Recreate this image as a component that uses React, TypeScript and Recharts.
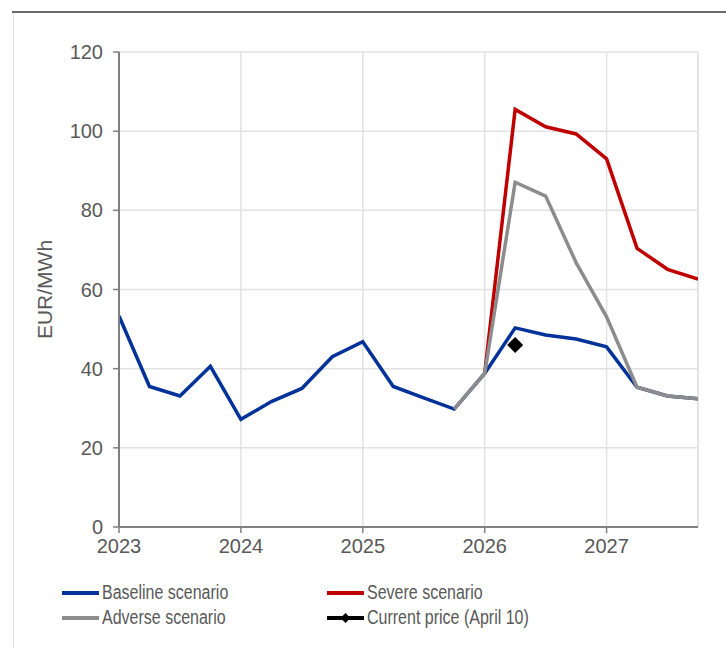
import React from "react";
import {
  LineChart,
  Line,
  XAxis,
  YAxis,
  CartesianGrid,
  ReferenceLine,
  Legend,
} from "recharts";

// ─── Data ────────────────────────────────────────────────────────────────────

const quarters = [
  2023, 2023.25, 2023.5, 2023.75,
  2024, 2024.25, 2024.5, 2024.75,
  2025, 2025.25, 2025.5, 2025.75,
  2026, 2026.25, 2026.5, 2026.75,
  2027, 2027.25, 2027.5, 2027.75,
];

const baseline = [
  53.3, 35.5, 33.1, 40.6, 27.2, 31.7, 35.0, 43.0, 46.8, 35.5, 32.6, 29.8,
  38.8, 50.3, 48.5, 47.5, 45.5, 35.3, 33.1, 32.4,
];

const severe = [
  null, null, null, null, null, null, null, null, null, null, null, null,
  38.8, 105.5, 101.1, 99.3, 93.0, 70.4, 65.1, 62.6,
];

const adverse = [
  null, null, null, null, null, null, null, null, null, null, null, 29.8,
  38.8, 87.1, 83.6, 66.8, 53.1, 35.3, 33.1, 32.4,
];

const currentPrice = [
  null, null, null, null, null, null, null, null, null, null, null, null,
  null, 46.0, null, null, null, null, null, null,
];

const yearTicks = [2023, 2024, 2025, 2026, 2027];
const valueTicks = [0, 20, 40, 60, 80, 100, 120];

const BLUE = "#003299";
const RED = "#c00000";
const GREY = "#8c8c8c";
const TEXT = "#595959";
const FONT = "'Liberation Sans', Arial, sans-serif";

const rows = quarters.map((q, i) => ({
  q,
  baseline: baseline[i],
  severe: severe[i],
  adverse: adverse[i],
  current: currentPrice[i],
}));

// ─── Marker + legend ─────────────────────────────────────────────────────────

function Diamond({ cx, cy, payload }: any) {
  if (cx == null || cy == null || payload?.current == null) return null;
  const r = 8;
  return (
    <path
      d={`M${cx},${cy - r} L${cx + r},${cy} L${cx},${cy + r} L${cx - r},${cy} Z`}
      fill="#000"
    />
  );
}

const legendItems = [
  { label: "Baseline scenario", color: BLUE, left: 0, top: 0 },
  { label: "Severe scenario", color: RED, left: 265, top: 0 },
  { label: "Adverse scenario", color: GREY, left: 0, top: 25 },
  { label: "Current price (April 10)", color: "#000", left: 265, top: 25, marker: true },
];

function ScenarioLegend() {
  return (
    <div style={{ position: "relative", width: 560, height: 50, fontFamily: FONT }}>
      {legendItems.map((it) => (
        <div
          key={it.label}
          style={{
            position: "absolute",
            left: it.left,
            top: it.top,
            display: "flex",
            alignItems: "center",
            fontSize: 16,
            color: TEXT,
            whiteSpace: "nowrap",
          }}
        >
          <svg width={37} height={12} style={{ marginRight: 3 }}>
            <line x1={0} y1={6} x2={37} y2={6} stroke={it.color} strokeWidth={4} strokeLinecap="round" />
            {it.marker && <path d="M18.5,1 L23.5,6 L18.5,11 L13.5,6 Z" fill="#000" />}
          </svg>
          <span style={{ transform: "scaleY(1.25)", display: "inline-block" }}>{it.label}</span>
        </div>
      ))}
    </div>
  );
}

// ─── Component ───────────────────────────────────────────────────────────────

export default function App() {
  return (
    <div
      style={{
        position: "fixed",
        left: 0,
        top: 0,
        width: 726,
        height: 648,
        background: "#fff",
        fontFamily: FONT,
      }}
    >
      {/* frame */}
      <div style={{ position: "absolute", left: 12, top: 11, width: 714, height: 2, background: "#6b6b6b" }} />
      <div style={{ position: "absolute", left: 13, top: 13, width: 1, height: 635, background: "#e0e0e0" }} />

      <div style={{ position: "absolute", left: 0, top: 0 }}>
        <LineChart
          width={726}
          height={648}
          data={rows}
          margin={{ top: 52, right: 28, bottom: 0, left: 45 }}
        >
          <CartesianGrid stroke="#e2e2e2" strokeWidth={1.5} vertical horizontal />
          <XAxis
            dataKey="q"
            type="number"
            domain={[2023, 2027.75]}
            ticks={yearTicks}
            interval={0}
            height={71}
            tickSize={6}
            tickMargin={6}
            axisLine={{ stroke: "#808080", strokeWidth: 2 }}
            tickLine={{ stroke: "#808080", strokeWidth: 1.5 }}
            tick={{ fill: TEXT, fontSize: 20, fontFamily: FONT }}
            allowDataOverflow
          />
          <YAxis
            domain={[0, 120]}
            ticks={valueTicks}
            interval={0}
            width={74}
            tickSize={6}
            tickMargin={10}
            axisLine={{ stroke: "#808080", strokeWidth: 2 }}
            tickLine={{ stroke: "#808080", strokeWidth: 1.5 }}
            tick={{ fill: TEXT, fontSize: 20, fontFamily: FONT }}
            label={{
              value: "EUR/MWh",
              angle: -90,
              position: "insideLeft",
              offset: 0,
              fill: TEXT,
              fontSize: 21,
              fontFamily: FONT,
              style: { textAnchor: "middle" },
            }}
          />
          <ReferenceLine x={2027.75} stroke="#e2e2e2" strokeWidth={1.5} />
          <Legend
            verticalAlign="bottom"
            align="left"
            content={() => <ScenarioLegend />}
            wrapperStyle={{ left: 62, top: 584, width: 600, height: 50 }}
          />
          <Line
            dataKey="baseline"
            stroke={BLUE}
            strokeWidth={3.5}
            dot={false}
            activeDot={false}
            isAnimationActive={false}
            legendType="none"
          />
          <Line
            dataKey="severe"
            stroke={RED}
            strokeWidth={3.5}
            dot={false}
            activeDot={false}
            isAnimationActive={false}
            legendType="none"
          />
          <Line
            dataKey="adverse"
            stroke={GREY}
            strokeWidth={3.5}
            dot={false}
            activeDot={false}
            isAnimationActive={false}
            legendType="none"
          />
          <Line
            dataKey="current"
            stroke="none"
            dot={<Diamond />}
            activeDot={false}
            isAnimationActive={false}
            legendType="none"
          />
        </LineChart>
      </div>
    </div>
  );
}
